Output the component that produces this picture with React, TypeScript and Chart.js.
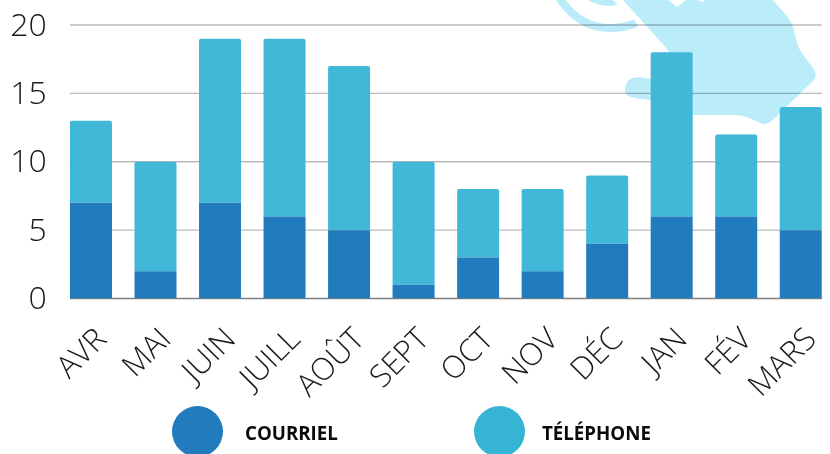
import React, { useEffect, useRef } from "react";
import { Chart, registerables } from "chart.js";

Chart.register(...registerables);

const months = ["AVR", "MAI", "JUIN", "JUILL", "AOÛT", "SEPT", "OCT", "NOV", "DÉC", "JAN", "FÉV", "MARS"];
const courriel = [7, 2, 7, 6, 5, 1, 3, 2, 4, 6, 6, 5];
const telephone = [6, 8, 12, 13, 12, 9, 5, 6, 5, 12, 6, 9];
const yTicks = [0, 5, 10, 15, 20];
const BLUE = "#217bbd";
const CYAN = "#42b8d8";
const FONT = '"Open Sans", sans-serif';

const gridPlugin = {
  id: "insetGrid",
  beforeDatasetsDraw(chart: any) {
    const { ctx, scales } = chart;
    const bars = chart.getDatasetMeta(0).data;
    const first = bars[0];
    const last = bars[bars.length - 1];
    const left = first.x - first.width / 2;
    const right = last.x + last.width / 2;
    ctx.save();
    yTicks.forEach((t) => {
      const y = scales.y.getPixelForValue(t);
      ctx.strokeStyle = t === 0 ? "rgba(0,0,0,0.5)" : "rgba(0,0,0,0.27)";
      ctx.lineWidth = 1.4;
      ctx.beginPath();
      ctx.moveTo(left, y);
      ctx.lineTo(right, y);
      ctx.stroke();
    });
    ctx.restore();
  },
};

export default function App() {
  const ref = useRef<HTMLCanvasElement>(null);
  useEffect(() => {
    const chart = new Chart(ref.current!, {
      type: "bar",
      data: {
        labels: months,
        datasets: [
          { label: "COURRIEL", data: courriel, backgroundColor: BLUE, stack: "a", barPercentage: 1, categoryPercentage: 0.651 },
          {
            label: "TÉLÉPHONE",
            data: telephone,
            backgroundColor: CYAN,
            stack: "a",
            barPercentage: 1,
            categoryPercentage: 0.651,
            borderRadius: { topLeft: 2, topRight: 2, bottomLeft: 0, bottomRight: 0 },
            borderSkipped: false,
          },
        ],
      },
      options: {
        responsive: false,
        animation: false,
        layout: { padding: { top: 25, left: 0, right: 27, bottom: 0 } },
        plugins: { legend: { display: false }, tooltip: { enabled: false } },
        scales: {
          x: {
            stacked: true,
            grid: { display: false },
            border: { display: false },
            afterFit(s: any) { s.height = 155.5; },
            ticks: {
              color: "#1a1a1a",
              font: { family: FONT, size: 31, weight: 300 },
              maxRotation: 45,
              minRotation: 45,
              autoSkip: false,
              padding: 15,
              labelOffset: 11,
            },
          },
          y: {
            stacked: true,
            min: 0,
            max: 20,
            grid: { display: false },
            border: { display: false },
            afterFit(s: any) { s.width = 58.7; },
            afterBuildTicks(s: any) { s.ticks = yTicks.map((value) => ({ value })); },
            ticks: {
              color: "#1a1a1a",
              font: { family: FONT, size: 32, weight: 300 },
              padding: 4,
              labelOffset: 1.5,
            },
          },
        },
      },
      plugins: [gridPlugin],
    } as any);
    return () => chart.destroy();
  }, []);

  const legendText: React.CSSProperties = {
    position: "absolute",
    top: 421,
    font: `700 18.7px ${FONT}`,
    color: "#0a0a0a",
    lineHeight: "23px",
    whiteSpace: "nowrap",
  };
  const dot: React.CSSProperties = { position: "absolute", width: 51, height: 51, borderRadius: "50%", top: 406 };

  return (
    <div style={{ position: "fixed", left: 0, top: 0, width: 830, height: 454, overflow: "hidden", background: "#fff" }}>
      <svg width={830} height={454} style={{ position: "absolute", left: 0, top: 0 }}>
        <path
          fill="#bbecfa"
          d="M623 0 L668 50 L680 90 C640 72 626 74 625 90 C625 97 632 98 651 100 L690 115 L736 115 C750 116 760 124 763 124 C768 124 772 121 775 118 L813 81 C817 77 816 72 813 68 L802 53 C798 48 797 42 795 35 C793 26 792 22 785 14 L773 0 L705 0 L703 2 L697 0 L686 0 L677 7 L668 0 Z"
        />
        <path
          fill="none"
          stroke="#bbecfa"
          strokeWidth="8"
          d="M558 -4 C572 18 590 28 610 28 C621 28 629 26 636 23"
        />
        <path
          fill="#bbecfa"
          d="M588 0 C596 5 605 6 612 6 L618 4 L612 0 Z"
        />
      </svg>
      <canvas ref={ref} width={860} height={454} style={{ position: "absolute", left: 0, top: 0 }} />
      <div style={{ ...dot, left: 171.5, background: BLUE }} />
      <div style={{ ...legendText, left: 245 }}>COURRIEL</div>
      <div style={{ ...dot, left: 473.5, background: "#35b5d3" }} />
      <div style={{ ...legendText, left: 542 }}>TÉLÉPHONE</div>
    </div>
  );
}
